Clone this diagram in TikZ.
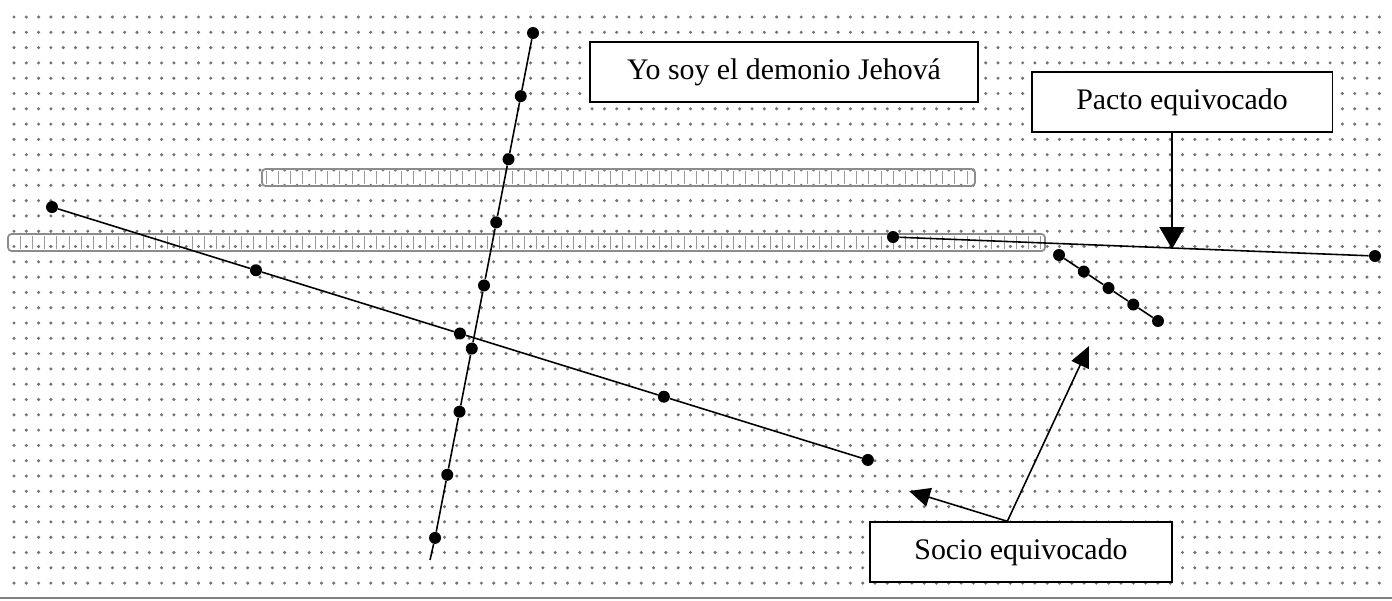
\documentclass[tikz,border=0pt]{standalone}
\usepackage{fontspec}
\setmainfont{Liberation Serif}
\usetikzlibrary{positioning,arrows.meta}

\begin{document}
\begin{tikzpicture}[x=0.02cm,y=-0.02cm,on grid,
  dot/.style={circle,fill=black,inner sep=0pt,minimum size=0.24cm},
  textbox/.style={draw,line width=1.1pt,fill=white,inner sep=0pt,
    font=\fontsize{17}{20}\selectfont,minimum height=1.19cm},
  bighead/.style={-{Triangle[length=0.44cm,width=0.5cm]}},
  smallhead/.style={-{Triangle[length=0.42cm,width=0.38cm]}}]
\useasboundingbox (0,0) rectangle (1392,600);
% dotted background
\foreach \i in {0,...,111}
  \foreach \j in {0,...,37}
    \fill[black!55] (14+12.3*\i,17+15.3*\j) circle[radius=0.034cm];
% hatched strips
\draw[gray!90,line width=1pt,rounded corners=2pt] (262,169) rectangle (975,186);
\foreach \i in {20,...,77}
  \draw[gray!80,line width=0.5pt] (20+12.3*\i,171) -- (20+12.3*\i,184);
\draw[gray!90,line width=1pt,rounded corners=2pt] (8,234) rectangle (1045,251);
\foreach \i in {0,...,83}
  \draw[gray!80,line width=0.5pt] (20+12.3*\i,236) -- (20+12.3*\i,249);
\draw[gray,line width=0.6pt] (0,598) -- (1392,598);

% steep line
\node[dot] (v1) at (533,33) {};
\node[dot,below left=1.2625cm and 0.245cm of v1] (v2) {};
\node[dot,below left=1.2625cm and 0.245cm of v2] (v3) {};
\node[dot,below left=1.2625cm and 0.245cm of v3] (v4) {};
\node[dot,below left=1.2625cm and 0.245cm of v4] (v5) {};
\node[dot,below left=1.2625cm and 0.245cm of v5] (v6) {};
\node[dot,below left=1.2625cm and 0.245cm of v6] (v7) {};
\node[dot,below left=1.2625cm and 0.245cm of v7] (v8) {};
\node[dot,below left=1.2625cm and 0.245cm of v8] (v9) {};
\coordinate (vend) at (430,560);
\draw[line width=0.9pt] (v1)--(v2)--(v3)--(v4)--(v5)--(v6)--(v7)--(v8)--(v9)--(vend);

% falling line
\node[dot] (d1) at (52,207) {};
\node[dot,below right=1.265cm and 4.08cm of d1] (d2) {};
\node[dot,below right=1.265cm and 4.08cm of d2] (d3) {};
\node[dot,below right=1.265cm and 4.08cm of d3] (d4) {};
\node[dot,below right=1.265cm and 4.08cm of d4] (d5) {};
\draw[line width=0.9pt] (d1)--(d2)--(d3)--(d4)--(d5);

% flat line and short segment
\node[dot] (h1) at (893,237) {};
\node[dot] (h2) at (1375,256) {};
\draw[line width=0.9pt] (h1)--(h2);
\node[dot] (s1) at (1059,255) {};
\node[dot,below right=0.33cm and 0.495cm of s1] (s2) {};
\node[dot,below right=0.33cm and 0.495cm of s2] (s3) {};
\node[dot,below right=0.33cm and 0.495cm of s3] (s4) {};
\node[dot,below right=0.33cm and 0.495cm of s4] (s5) {};
\draw[line width=0.9pt] (s1)--(s2)--(s3)--(s4)--(s5);

% labels
\node[textbox,minimum width=7.76cm] (jehova) at (784,72) {Yo soy el demonio Jehová};
\node[textbox,minimum width=6.02cm] (pacto) at (1182,102) {Pacto equivocado};
\node[textbox,minimum width=6.04cm] (socio) at (1021,552) {Socio equivocado};

\coordinate (hit) at (1172,249);
\draw[line width=0.9pt,bighead] (pacto.south -| hit) -- (hit);
\coordinate (up) at (1089,346);
\coordinate (left) at (909,491);
\draw[line width=0.9pt,smallhead] (socio.114) -- (up);
\draw[line width=0.9pt,smallhead] (socio.114) -- (left);
\end{tikzpicture}
\end{document}
